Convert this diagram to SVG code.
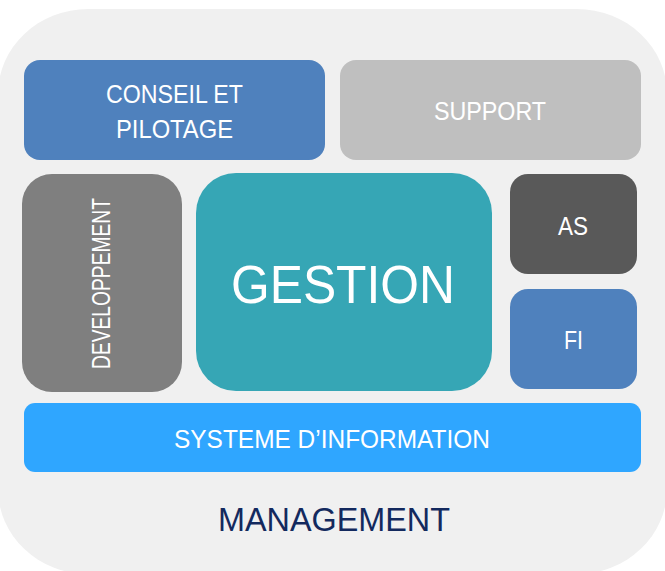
<svg xmlns="http://www.w3.org/2000/svg" width="665" height="571" viewBox="0 0 665 571">
<style>
text{font-family:"Liberation Sans",Arial,sans-serif;fill:#fff;text-anchor:middle}
.l{font-size:25px}
</style>
<rect x="0" y="0" width="665" height="571" fill="#ffffff"/>
<g id="management">
<rect x="-2" y="9" width="669" height="565" rx="90" ry="85" fill="#f0f0f0"/>
<text x="334" y="531" font-size="33" style="fill:#13295e" textLength="232" lengthAdjust="spacingAndGlyphs">MANAGEMENT</text>
</g>
<g id="conseil">
<rect x="24" y="60" width="301" height="100" rx="16" fill="#4f81bd"/>
<text class="l" x="174.5" y="103" textLength="137" lengthAdjust="spacingAndGlyphs">CONSEIL ET</text>
<text class="l" x="174.5" y="138" textLength="117" lengthAdjust="spacingAndGlyphs">PILOTAGE</text>
</g>
<g id="support">
<rect x="340" y="60" width="301" height="100" rx="16" fill="#bfbfbf"/>
<text class="l" x="490" y="120" textLength="112" lengthAdjust="spacingAndGlyphs">SUPPORT</text>
</g>
<g id="developpement">
<rect x="22" y="174" width="160" height="218" rx="30" fill="#7f7f7f"/>
<text class="l" transform="translate(110,283.5) rotate(-90)" x="0" y="0" textLength="171" lengthAdjust="spacingAndGlyphs">DEVELOPPEMENT</text>
</g>
<g id="gestion">
<rect x="196" y="173" width="296" height="218" rx="40" fill="#36a6b5"/>
<text x="343" y="303" font-size="54" textLength="224" lengthAdjust="spacingAndGlyphs">GESTION</text>
</g>
<g id="as">
<rect x="510" y="174" width="127" height="100" rx="18" fill="#595959"/>
<text class="l" x="573" y="235" textLength="30" lengthAdjust="spacingAndGlyphs">AS</text>
</g>
<g id="fi">
<rect x="510" y="289" width="127" height="100" rx="18" fill="#4f81bd"/>
<text class="l" x="573.5" y="349" textLength="19" lengthAdjust="spacingAndGlyphs">FI</text>
</g>
<g id="systeme">
<rect x="24" y="403" width="617" height="69" rx="11" fill="#2fa6ff"/>
<text class="l" x="332" y="448" textLength="316" lengthAdjust="spacingAndGlyphs">SYSTEME D’INFORMATION</text>
</g>
<g id="connectors"></g>
</svg>
